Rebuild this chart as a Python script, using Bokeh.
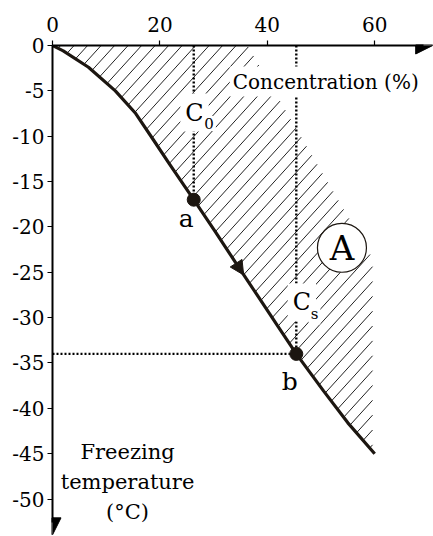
import numpy as np
from bokeh.plotting import figure
from bokeh.models import Range1d, FixedTicker, Label, Arrow, NormalHead
from bokeh.embed import file_html
from bokeh.resources import INLINE

# ---- data ----
conc = [0, 2, 6.7, 11.7, 15.5, 18.9, 21.7, 26.3, 30.4, 34.5, 38.1, 41.8, 45.4, 50.5, 55, 60]
temp = [0, -0.6, -2.4, -5, -7.5, -10.5, -13, -17, -20.6, -24.3, -27.5, -30.8, -34, -38.1, -41.6, -45]
region_right_x = [59.6, 59.6, 36.3]
region_right_y = [-44.7, -23.5, 0.0]
point_names = ["a", "b"]
point_conc = [26.3, 45.4]
point_temp = [-17.0, -34.0]
x_ticks = [0, 20, 40, 60]
y_ticks = [0, -5, -10, -15, -20, -25, -30, -35, -40, -45, -50]
x_title = "Concentration (%)"
y_title_lines = ["Freezing", "temperature", "(°C)"]
region_name = "A"

FONT = "DejaVu Serif"
INK = "#1c1610"

W, H = 433, 536
FL, FT = 52, 45
XS, XE = 0.0, 70.95
YS, YE = -54.13, 0.0

p = figure(width=W, height=H,
           x_range=Range1d(XS, XE), y_range=Range1d(YS, YE),
           x_axis_location="above", y_axis_location="left",
           output_backend="svg", toolbar_location=None,
           min_border_left=FL, min_border_top=FT, min_border_right=0, min_border_bottom=0)
p.outline_line_color = None
p.grid.visible = False
p.background_fill_color = "white"

for ax in (p.xaxis, p.yaxis):
    ax.axis_line_width = 2
    ax.axis_line_color = "black"
    ax.major_tick_line_width = 1.2
    ax.major_tick_line_color = "black"
    ax.major_tick_out = 5
    ax.major_tick_in = 0
    ax.minor_tick_line_color = None
    ax.major_label_text_font = FONT
    ax.major_label_text_font_size = "20px"
    ax.major_label_text_color = "black"
p.xaxis.ticker = FixedTicker(ticks=x_ticks)
p.yaxis.ticker = FixedTicker(ticks=y_ticks)
p.xaxis.major_label_overrides = {t: str(t) for t in x_ticks}
p.yaxis.major_label_overrides = {t: str(t) for t in y_ticks}
p.xaxis.major_label_standoff = 9
p.yaxis.major_label_standoff = 3
p.xaxis.bounds = (0, 69)
p.yaxis.bounds = (-52.6, 0)

# axis arrowheads
p.add_layout(Arrow(end=NormalHead(size=17, fill_color="black", line_color="black"),
                   x_start=67.5, y_start=0, x_end=70.8, y_end=0, line_width=2, line_color="black"))
p.add_layout(Arrow(end=NormalHead(size=17, fill_color="black", line_color="black"),
                   x_start=0, y_start=-52.0, x_end=0, y_end=-53.95, line_width=2, line_color="black"))

# hatched region, drawn as clipped diagonal lines
sx = (W - FL) / (XE - XS)
sy = (H - FT) / (YE - YS)


def hatch_lines(xs, ys, slope=1.1, gap=13.5):
    px = FL + (np.asarray(xs, float) - XS) * sx
    py = FT + (YE - np.asarray(ys, float)) * sy
    n = len(px)
    cv = py + slope * px
    step = gap * slope
    lx, ly = [], []
    for c in np.arange(cv.min() + step * 0.6, cv.max(), step):
        hits = []
        for i in range(n):
            x1, y1, x2, y2 = px[i], py[i], px[(i + 1) % n], py[(i + 1) % n]
            f1, f2 = y1 + slope * x1 - c, y2 + slope * x2 - c
            if (f1 < 0) != (f2 < 0):
                t = f1 / (f1 - f2)
                hits.append(x1 + t * (x2 - x1))
        hits.sort()
        for a, b in zip(hits[0::2], hits[1::2]):
            seg_px = np.array([a, b])
            seg_py = c - slope * seg_px
            lx.append(list(XS + (seg_px - FL) / sx))
            ly.append(list(YE - (seg_py - FT) / sy))
    return lx, ly


hx, hy = hatch_lines(conc[:-1] + region_right_x, temp[:-1] + region_right_y)
p.multi_line(hx, hy, line_color="#222222", line_width=1)

# dotted guides
p.segment(x0=point_conc, y0=[0, 0], x1=point_conc, y1=point_temp,
          line_color="black", line_width=2.4, line_dash="2 2")
p.segment(x0=[0], y0=[point_temp[1]], x1=[point_conc[1]], y1=[point_temp[1]],
          line_color="black", line_width=2.4, line_dash="2 2")

# curve
p.line(conc, temp, line_color=INK, line_width=3.2)
p.add_layout(Arrow(end=NormalHead(size=14, fill_color=INK, line_color=INK),
                   x_start=33.0, y_start=-22.9, x_end=35.6, y_end=-25.3,
                   line_alpha=0))
p.scatter(point_conc, point_temp, size=13, marker="circle", fill_color=INK, line_color=INK)

# region circle
p.scatter([53.9], [-22.3], size=49, marker="circle", fill_color="white",
          line_color=INK, line_width=1.2)


def lab(x, y, text, size, align="left", bg=False, pad=0):
    kw = dict(x=x, y=y, text=text, text_font=FONT, text_font_size=size,
              text_align=align, text_baseline="middle", text_color="black")
    if bg:
        kw.update(background_fill_color="white", padding=pad)
    p.add_layout(Label(**kw))


lab(33.0, -3.97, x_title, "20px", bg=True, pad=3)
lab(23.8, -7.39, "C", "24px", bg=True, pad=5)
lab(27.9, -8.6, "0", "15px", bg=True, pad=2)
lab(43.8, -28.33, "C", "24px", bg=True, pad=5)
lab(47.7, -29.55, "s", "15px", bg=True, pad=2)
lab(24.9, -19.05, point_names[0], "25px", align="center")
lab(44.2, -37.0, point_names[1], "25px", align="center")
lab(53.9, -22.33, region_name, "34px", align="center")
for i, ty in enumerate([-44.81, -48.12, -51.42]):
    lab(13.97, ty, y_title_lines[i], "21px", align="center")

open("out.html", "w").write(file_html(p, INLINE))
